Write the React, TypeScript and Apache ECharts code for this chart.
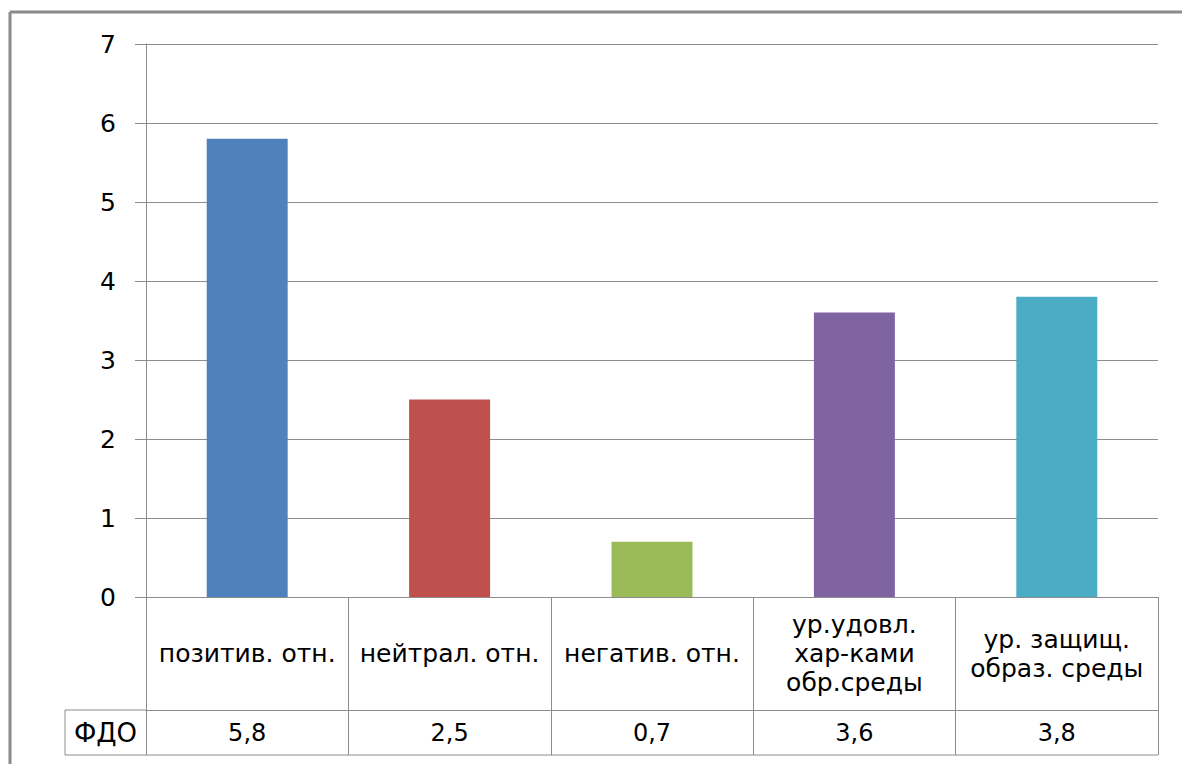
import React, { useEffect, useRef } from "react";
import * as echarts from "echarts";

const categories = [
  "позитив. отн.",
  "нейтрал. отн.",
  "негатив. отн.",
  "ур.удовл.\nхар-ками\nобр.среды",
  "ур. защищ.\nобраз. среды",
];
const seriesName = "ФДО";
const values = [5.8, 2.5, 0.7, 3.6, 3.8];
const barColors = ["#4F81BD", "#C0504D", "#9BBB59", "#8064A2", "#4BACC6"];
const yTicks = { min: 0, max: 7, interval: 1 };

const LINE = "#8c8c8c";
const FONT = "DejaVu Sans";

export default function App() {
  const ref = useRef<HTMLDivElement>(null);
  useEffect(() => {
    document.body.style.margin = "0";
    const chart = echarts.init(ref.current!, undefined, { renderer: "svg" });
    const gridLeft = 146;
    const gridRight = 1158;
    const gridTop = 44;
    const gridBottom = 597;
    const headerH = 113;
    const valueH = 45;
    const fmt = (v: number) => String(v).replace(".", ",");
    chart.setOption({
      animation: false,
      backgroundColor: "#ffffff",
      grid: {
        left: gridLeft,
        right: 1182 - gridRight,
        top: gridTop,
        bottom: 764 - gridBottom,
        containLabel: false,
      },
      xAxis: [
        {
          type: "category",
          data: categories,
          position: "bottom",
          axisLine: { show: true, lineStyle: { color: LINE, width: 1 } },
          axisTick: { show: true, length: headerH, interval: 0, lineStyle: { color: LINE } },
          axisLabel: {
            interval: 0,
            margin: headerH / 2,
            verticalAlign: "middle",
            fontFamily: FONT,
            fontSize: 25,
            lineHeight: 29,
            color: "#000",
            align: "center",
          },
          splitLine: { show: false },
        },
        {
          type: "category",
          data: values.map(fmt),
          position: "bottom",
          offset: headerH,
          axisLine: { show: true, lineStyle: { color: LINE, width: 1 } },
          axisTick: { show: true, length: valueH, interval: 0, lineStyle: { color: LINE } },
          axisLabel: {
            interval: 0,
            margin: valueH / 2,
            verticalAlign: "middle",
            fontFamily: FONT,
            fontSize: 24,
            color: "#000",
          },
          splitLine: { show: false },
        },
      ],
      yAxis: {
        type: "value",
        min: yTicks.min,
        max: yTicks.max,
        interval: yTicks.interval,
        axisLine: { show: true, lineStyle: { color: LINE, width: 1 } },
        axisTick: { show: true, length: 11, lineStyle: { color: LINE } },
        axisLabel: {
          margin: 30,
          fontFamily: FONT,
          fontSize: 25,
          color: "#000",
        },
        splitLine: { show: true, lineStyle: { color: LINE, width: 1 } },
      },
      series: [
        {
          name: seriesName,
          type: "bar",
          xAxisIndex: 0,
          barWidth: "40%",
          data: values.map((v, i) => ({ value: v, itemStyle: { color: barColors[i] } })),
        },
      ],
      graphic: [
        { type: "line", shape: { x1: 10, y1: 12, x2: 10, y2: 764 }, style: { stroke: "#8a8a8a", lineWidth: 3 } },
        { type: "line", shape: { x1: 10, y1: 12, x2: 1182, y2: 12 }, style: { stroke: "#8a8a8a", lineWidth: 3 } },
        { type: "line", shape: { x1: 65, y1: gridBottom + headerH, x2: gridLeft, y2: gridBottom + headerH }, style: { stroke: LINE, lineWidth: 1 } },
        { type: "line", shape: { x1: 65, y1: gridBottom + headerH, x2: 65, y2: gridBottom + headerH + valueH }, style: { stroke: LINE, lineWidth: 1 } },
        { type: "line", shape: { x1: 65, y1: gridBottom + headerH + valueH, x2: gridRight, y2: gridBottom + headerH + valueH }, style: { stroke: LINE, lineWidth: 1 } },
        {
          type: "text",
          x: (65 + gridLeft) / 2,
          y: gridBottom + headerH + valueH / 2,
          style: {
            text: seriesName,
            fontFamily: FONT,
            fontSize: 26,
            fill: "#000",
            align: "center",
            verticalAlign: "middle",
          },
        },
      ],
    });
    return () => chart.dispose();
  }, []);
  return <div ref={ref} style={{ position: "fixed", left: 0, top: 0, width: 1182, height: 764 }} />;
}
